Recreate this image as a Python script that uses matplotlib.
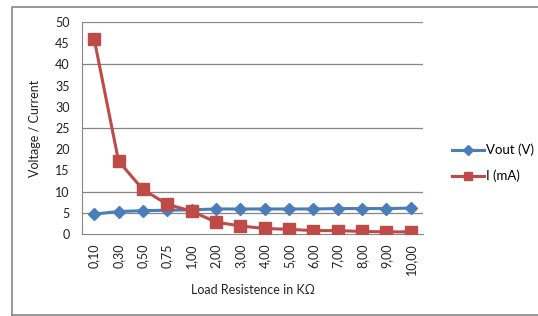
import matplotlib
matplotlib.use("Agg")
import matplotlib.pyplot as plt
from matplotlib.lines import Line2D

plt.rcParams["font.family"] = ["Lato", "DejaVu Sans"]

categories = ["0,10", "0,30", "0,50", "0,75", "1,00", "2,00", "3,00", "4,00",
              "5,00", "6,00", "7,00", "8,00", "9,00", "10,00"]
vout = [4.7, 5.3, 5.5, 5.6, 5.7, 5.9, 5.9, 5.9, 5.9, 5.9, 6.0, 6.0, 6.0, 6.1]
current = [46.0, 17.2, 10.5, 7.0, 5.4, 2.8, 1.9, 1.3, 1.1, 0.8, 0.8, 0.6, 0.5, 0.5]
yticks = [0, 5, 10, 15, 20, 25, 30, 35, 40, 45, 50]
grid_vals = [5, 10, 25, 40, 50]

blue = "#4a7ebb"
red = "#be4b48"

fig = plt.figure(figsize=(5.38, 3.16), dpi=100)
fig.patch.set_facecolor("white")

# outer chart border (left, top, bottom)
fig.add_artist(Line2D([12/538, 12/538, 1.0], [1/316, 1 - 6.5/316, 1 - 6.5/316],
                      transform=fig.transFigure, color="#868686", lw=1.2))
fig.add_artist(Line2D([12/538, 1.0], [1/316, 1/316], transform=fig.transFigure,
                      color="#868686", lw=1.2))

ax = fig.add_axes([82/538, 1 - 234/316, (423 - 82)/538, (234 - 22)/316])
x = list(range(len(categories)))

for g in grid_vals:
    ax.axhline(g, color="#868686", lw=0.9, zorder=0)

ax.plot(x, vout, color=blue, lw=2.2, marker="D", markersize=6, zorder=3, label="Vout (V)")
ax.plot(x, current, color=red, lw=2.2, marker="s", markersize=8, zorder=4, label="I (mA)")

ax.set_xlim(-0.5, len(categories) - 0.5)
ax.set_ylim(0, 50)
ax.set_yticks(yticks)
ax.set_xticks(x)
ax.set_xticklabels(categories, rotation=90, fontsize=9, color="#222222")
ax.tick_params(axis="y", labelsize=9, colors="#222222", length=0, pad=9)
ax.tick_params(axis="x", length=0, pad=7)
for s in ["top", "right"]:
    ax.spines[s].set_visible(False)
ax.spines["left"].set_color("#868686")
ax.spines["bottom"].set_color("#868686")

ax.set_ylabel("Voltage / Current", fontsize=9, color="#222222", labelpad=10)
ax.set_xlabel("Load Resistence in KΩ", fontsize=9, color="#222222", labelpad=6)

leg = fig.legend(loc="upper left", bbox_to_anchor=(440/538, 1 - 132/316),
                 frameon=False, fontsize=9.5, handlelength=2.4, handletextpad=0.15,
                 labelspacing=1.0, markerscale=0.8)

fig.savefig("out.png", dpi=100)
